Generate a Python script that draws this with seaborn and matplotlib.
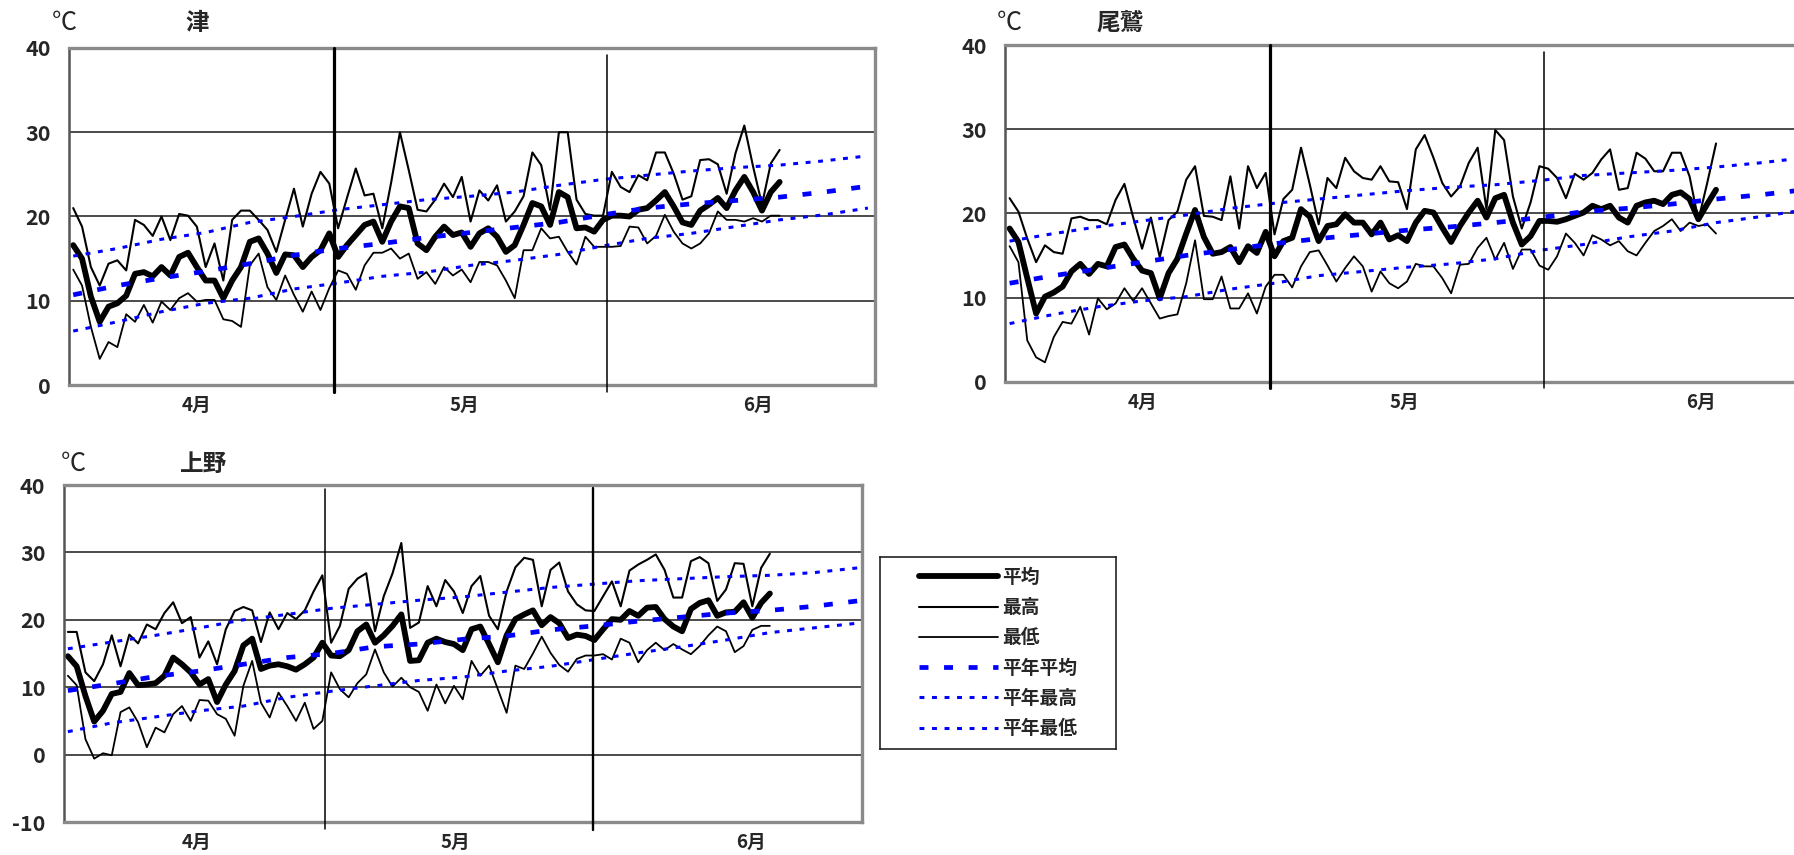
import numpy as np
import pandas as pd
import matplotlib
matplotlib.use("Agg")
import matplotlib.pyplot as plt
import seaborn as sns

sns.set_theme(style="white")
plt.rcParams['font.family'] = ['Noto Sans CJK JP', 'DejaVu Sans']

W, H = 1794, 855

# ---------------- data ----------------
days = list(range(81))            # 4/1 .. 6/20
norm_days = list(range(0, 91, 5))  # every 5 days, 4/1 .. 6/30
month_labels = ['4月', '5月', '6月']
legend_labels = ['平均', '最高', '最低', '平年平均', '平年最高', '平年最低']

tsu_max = [21.0, 18.8, 14.0, 11.8, 14.4, 14.8, 13.6, 19.6, 19.0, 17.7, 20.0, 17.2, 20.3, 20.1, 18.8,
           14.0, 16.8, 12.4, 19.6, 20.7, 20.7, 19.6, 18.4, 15.8, 19.6, 23.3, 18.8, 22.7, 25.3, 23.9,
           18.6, 22.2, 25.7, 22.5, 22.7, 18.6, 24.0, 30.0, 25.5, 20.8, 20.6, 22.0, 23.9, 22.3, 24.7,
           19.4, 23.1, 21.9, 23.7, 19.4, 20.6, 22.4, 27.6, 26.1, 20.8, 30.0, 30.0, 22.0, 20.3, 20.1, 20.1,
           25.3, 23.5, 22.9, 24.9, 24.3, 27.6, 27.6, 25.1, 22.0, 22.4, 26.7, 26.8, 26.2, 22.7, 27.5,
           30.8, 25.9, 21.4, 26.3, 27.9]
tsu_mean = [16.6, 15.0, 10.5, 7.5, 9.3, 9.7, 10.6, 13.2, 13.4, 12.9, 14.0, 13.0, 15.2, 15.7, 14.0,
            12.4, 12.4, 10.3, 12.4, 14.0, 17.0, 17.4, 15.6, 13.3, 15.5, 15.4, 14.0, 15.2, 16.0, 18.0,
            15.2, 16.6, 17.8, 19.0, 19.4, 17.0, 19.4, 21.2, 21.0, 16.8, 16.0, 17.6, 18.8, 17.8, 18.1,
            16.4, 18.0, 18.6, 17.6, 15.8, 16.6, 19.0, 21.6, 21.2, 19.0, 22.9, 22.3, 18.6, 18.7, 18.2, 19.6,
            20.1, 20.1, 20.0, 20.8, 21.0, 21.9, 22.9, 21.2, 19.3, 19.0, 20.7, 21.4, 22.2, 21.0, 23.1,
            24.7, 22.9, 20.7, 22.9, 24.1]
tsu_min = [13.7, 11.8, 6.9, 3.1, 5.1, 4.5, 8.4, 7.5, 9.5, 7.4, 9.9, 8.9, 10.3, 10.9, 9.9,
           10.1, 10.1, 7.8, 7.6, 6.9, 14.2, 15.6, 11.6, 10.1, 13.0, 10.7, 8.7, 11.1, 8.9, 11.5,
           13.6, 13.2, 11.3, 14.2, 15.7, 15.7, 16.2, 15.0, 15.6, 12.6, 13.4, 12.0, 14.0, 13.0, 13.7,
           12.2, 14.6, 14.6, 14.2, 12.4, 10.3, 16.0, 16.0, 18.6, 17.4, 17.6, 15.8, 14.3, 17.6, 16.4, 16.4,
           16.4, 16.5, 18.8, 18.7, 16.8, 17.7, 20.2, 18.2, 16.8, 16.2, 16.8, 18.0, 20.6, 19.6, 19.6,
           19.4, 19.8, 19.4, 20.1, 20.1]
tsu_nmax = [15.3, 16.2, 17.3, 18.1, 19.3, 20.0, 20.8, 21.4, 22.0, 22.4, 22.9, 23.7, 24.4, 24.9, 25.4,
            25.8, 26.1, 26.6, 27.2]
tsu_nmean = [10.7, 11.8, 12.7, 13.5, 14.4, 15.4, 16.2, 16.8, 17.5, 18.1, 18.7, 19.3, 20.2, 21.0, 21.5,
             21.9, 22.3, 22.9, 23.6]
tsu_nmin = [6.4, 7.5, 8.7, 9.7, 10.3, 11.4, 12.1, 12.9, 13.4, 14.2, 14.8, 15.5, 16.5, 17.4, 18.0,
            18.8, 19.6, 20.2, 21.0]

ow_max = [21.8, 20.2, 17.0, 14.2, 16.2, 15.4, 15.2, 19.4, 19.6, 19.2, 19.2, 18.7, 21.6, 23.5, 19.5,
          15.8, 19.5, 14.8, 19.2, 20.2, 24.0, 25.6, 19.7, 19.6, 19.2, 24.4, 18.2, 25.6, 23.0, 24.8,
          17.5, 21.7, 22.8, 27.8, 23.4, 18.7, 24.2, 23.0, 26.6, 25.0, 24.2, 24.0, 25.6, 23.8, 23.7,
          20.5, 27.6, 29.3, 26.6, 23.6, 22.0, 23.2, 26.0, 27.8, 20.5, 29.9, 28.7, 22.0, 18.2, 21.3, 25.6,
          25.3, 24.2, 21.8, 24.7, 24.0, 24.8, 26.4, 27.6, 22.8, 23.0, 27.2, 26.5, 25.0, 25.0, 27.2,
          27.2, 24.4, 19.2, 23.6, 28.3]
ow_mean = [18.2, 16.6, 12.3, 8.1, 10.1, 10.6, 11.3, 13.1, 14.0, 12.8, 14.0, 13.7, 16.0, 16.3, 14.6,
           13.2, 12.9, 9.9, 12.9, 14.6, 17.6, 20.4, 17.2, 15.2, 15.4, 16.0, 14.2, 16.1, 15.3, 17.8,
           14.9, 16.7, 17.1, 20.5, 19.6, 16.7, 18.5, 18.7, 19.9, 18.9, 18.9, 17.5, 18.9, 16.9, 17.4,
           16.7, 18.9, 20.3, 20.1, 18.3, 16.6, 18.5, 20.1, 21.5, 19.5, 21.8, 22.2, 18.9, 16.3, 17.3, 19.1,
           19.1, 19.0, 19.3, 19.7, 20.1, 20.9, 20.5, 20.9, 19.5, 18.9, 20.9, 21.3, 21.5, 21.1, 22.2,
           22.5, 21.7, 19.3, 21.1, 22.8]
ow_min = [16.1, 14.2, 4.9, 2.9, 2.3, 5.3, 7.1, 6.9, 8.9, 5.6, 9.9, 8.6, 9.3, 11.1, 9.6,
          11.1, 9.3, 7.5, 7.8, 8.0, 11.7, 16.8, 9.8, 9.8, 12.5, 8.7, 8.7, 10.5, 8.1, 11.3,
          12.7, 12.7, 11.2, 13.7, 15.4, 15.6, 13.8, 11.9, 13.5, 14.9, 13.7, 10.7, 13.1, 11.7, 11.1,
          11.9, 14.0, 13.7, 13.7, 12.3, 10.5, 13.9, 14.0, 15.9, 17.1, 14.5, 16.5, 13.4, 15.7, 15.7, 13.8,
          13.3, 14.9, 17.6, 16.5, 15.0, 17.4, 16.9, 16.2, 16.7, 15.5, 15.0, 16.5, 17.9, 18.5, 19.3,
          17.9, 18.9, 18.5, 18.7, 17.6]
ow_nmax = [16.7, 17.6, 18.4, 19.1, 19.8, 20.6, 21.2, 21.7, 22.2, 22.7, 23.1, 23.4, 23.9, 24.5, 24.8,
           25.1, 25.5, 26.0, 26.6]
ow_nmean = [11.7, 12.6, 13.4, 14.2, 15.0, 15.7, 16.4, 17.0, 17.5, 18.0, 18.4, 18.9, 19.5, 20.2, 20.6,
            21.1, 21.7, 22.2, 22.8]
ow_nmin = [6.9, 8.0, 8.9, 9.6, 10.1, 11.0, 11.7, 12.6, 13.1, 13.6, 14.0, 14.6, 15.6, 16.3, 17.2,
           17.9, 18.9, 19.6, 20.4]

ue_max = [18.2, 18.2, 12.2, 10.9, 13.4, 17.7, 13.1, 17.8, 16.5, 19.3, 18.6, 21.0, 22.6, 19.5, 20.4,
          14.4, 16.8, 13.4, 18.6, 21.3, 21.9, 21.4, 16.7, 21.1, 18.6, 21.0, 20.1, 21.4, 24.2, 26.6,
          16.6, 19.1, 24.6, 26.1, 26.9, 18.3, 23.5, 26.9, 31.4, 18.8, 19.6, 25.0, 22.0, 25.9, 24.2,
          21.0, 25.0, 26.5, 20.6, 18.6, 24.2, 27.8, 29.2, 28.9, 22.0, 27.4, 28.5, 24.2, 22.3, 21.4, 21.3,
          23.5, 25.7, 22.0, 27.3, 28.2, 28.9, 29.7, 27.4, 23.3, 23.3, 28.7, 29.3, 28.4, 22.8, 24.5,
          28.4, 28.3, 22.0, 27.7, 29.8]
ue_mean = [14.6, 13.1, 8.7, 4.9, 6.5, 9.0, 9.3, 12.1, 10.3, 10.4, 10.6, 11.7, 14.4, 13.4, 12.2,
           10.4, 11.2, 7.8, 10.4, 12.4, 16.2, 17.2, 12.7, 13.2, 13.4, 13.1, 12.6, 13.4, 14.4, 16.6,
           14.7, 14.6, 15.5, 18.3, 19.3, 16.6, 17.7, 19.1, 20.8, 13.9, 14.0, 16.6, 17.2, 16.7, 16.4,
           15.5, 18.6, 19.0, 16.4, 13.7, 17.7, 20.1, 20.8, 21.4, 19.2, 20.4, 19.5, 17.3, 17.8, 17.6, 17.0,
           18.6, 20.1, 20.0, 21.3, 20.6, 21.8, 21.9, 20.1, 19.0, 18.3, 21.6, 22.5, 22.9, 20.6, 21.1,
           21.2, 22.6, 20.3, 22.5, 23.9]
ue_min = [11.7, 10.3, 2.3, -0.6, 0.2, -0.1, 6.3, 7.0, 4.8, 1.1, 4.0, 3.3, 6.0, 7.2, 5.0,
          8.1, 8.0, 6.0, 5.3, 2.8, 10.2, 13.9, 7.7, 5.5, 9.2, 7.2, 5.0, 7.7, 3.8, 5.0,
          12.2, 9.7, 8.5, 10.6, 11.9, 15.6, 12.2, 10.1, 11.4, 10.0, 9.3, 6.5, 10.4, 7.6, 10.2,
          8.2, 13.9, 11.7, 13.2, 9.7, 6.2, 13.2, 12.7, 15.0, 17.5, 15.1, 13.3, 12.3, 14.2, 14.7, 14.7,
          14.9, 14.1, 17.2, 16.6, 13.7, 15.5, 16.6, 15.5, 16.4, 15.6, 14.9, 16.1, 17.7, 19.0, 18.3,
          15.2, 16.1, 18.5, 19.1, 19.1]
ue_nmax = [15.7, 16.7, 17.7, 18.8, 20.0, 20.8, 21.7, 22.3, 22.9, 23.4, 24.1, 24.8, 25.3, 25.8, 26.1,
           26.4, 26.6, 27.0, 27.7]
ue_nmean = [9.5, 10.5, 11.6, 12.4, 13.4, 14.4, 15.0, 16.0, 16.4, 17.1, 17.6, 18.5, 19.1, 19.8, 20.4,
            21.0, 21.4, 22.0, 22.8]
ue_nmin = [3.4, 4.7, 5.6, 6.5, 7.2, 8.5, 9.4, 10.2, 11.0, 11.5, 12.4, 13.1, 14.1, 15.1, 16.0,
           17.0, 18.1, 18.8, 19.5]

# ---------------- styles ----------------
BLUE = '#0000FF'
ST_MEAN = dict(color='black', linewidth=4.2, solid_joinstyle='round', solid_capstyle='round')
ST_MAX = dict(color='black', linewidth=1.5, solid_joinstyle='round')
ST_MIN = dict(color='black', linewidth=1.3, solid_joinstyle='round')
ST_NMEAN = dict(color=BLUE, linewidth=3.4, linestyle=(0, (1.9, 3.3)))
ST_NMAX = dict(color=BLUE, linewidth=2.2, linestyle=(0, (1.6, 2.5)))
ST_NMIN = dict(color=BLUE, linewidth=2.2, linestyle=(0, (1.6, 2.5)))

fig = plt.figure(figsize=(W / 100, H / 100), dpi=100)
fig.patch.set_facecolor('white')


def fr(x0, y0, x1, y1):
    return [x0 / W, 1 - y1 / H, (x1 - x0) / W, (y1 - y0) / H]


def draw_panel(box, xmax, ylim, series, vlines, label_pos):
    ax = fig.add_axes(box)
    mx, mean, mn, nmx, nmean, nmn = series
    sns.lineplot(x=days, y=mean, ax=ax, label=legend_labels[0], **ST_MEAN)
    sns.lineplot(x=days, y=mx, ax=ax, label=legend_labels[1], **ST_MAX)
    sns.lineplot(x=days, y=mn, ax=ax, label=legend_labels[2], **ST_MIN)
    sns.lineplot(x=norm_days, y=nmean, ax=ax, label=legend_labels[3], **ST_NMEAN)
    sns.lineplot(x=norm_days, y=nmx, ax=ax, label=legend_labels[4], **ST_NMAX)
    sns.lineplot(x=norm_days, y=nmn, ax=ax, label=legend_labels[5], **ST_NMIN)
    if ax.get_legend() is not None:
        ax.get_legend().remove()
    ax.set_xlim(-0.5, xmax)
    ax.set_ylim(*ylim)
    yt = list(range(ylim[0], ylim[1] + 1, 10))
    ax.set_yticks(yt)
    ax.set_yticklabels([str(v) for v in yt], fontsize=15.5, fontweight='bold')
    ax.set_xticks(label_pos)
    ax.set_xticklabels(month_labels, fontsize=13.5, fontweight='bold')
    ax.tick_params(axis='y', length=0, pad=13)
    ax.tick_params(axis='x', length=0, pad=8)
    ax.set_xlabel('')
    ax.set_ylabel('')
    for v in yt[1:-1]:
        ax.axhline(v, color='#1a1a1a', linewidth=1.1, zorder=1)
    for xpos, lw, y0, y1 in vlines:
        ax.axvline(xpos, ymin=y0, ymax=y1, color='black', linewidth=lw, clip_on=False, zorder=3)
    for s in ['top', 'right', 'bottom']:
        ax.spines[s].set_color('#8a8a8a')
        ax.spines[s].set_linewidth(2.4)
    ax.spines['left'].set_color('#555555')
    ax.spines['left'].set_linewidth(1.8)
    return ax


ax1 = draw_panel(fr(68.8, 48, 875, 385), 90.8, (0, 40),
                 (tsu_max, tsu_mean, tsu_min, tsu_nmax, tsu_nmean, tsu_nmin),
                 [(29.5, 2.3, -0.02, 1.0), (60.5, 1.1, -0.02, 0.98)],
                 [14.0, 44.3, 77.5])
ax2 = draw_panel(fr(1005.2, 45, 1811.4, 381.7), 90.8, (0, 40),
                 (ow_max, ow_mean, ow_min, ow_nmax, ow_nmean, ow_nmin),
                 [(29.5, 2.3, -0.02, 1.0), (60.5, 1.1, -0.02, 0.98)],
                 [15.0, 44.7, 78.3])
ax3 = draw_panel(fr(63.5, 485, 862, 822), 90.5, (-10, 40),
                 (ue_max, ue_mean, ue_min, ue_nmax, ue_nmean, ue_nmin),
                 [(29.25, 1.1, -0.02, 0.987), (59.85, 1.7, -0.025, 0.99)],
                 [14.7, 44.2, 77.8])

# titles and units
for (ux, tx, ty, name) in [(64, 197, 23, '津'), (1009, 1120, 23, '尾鷲'), (73, 204, 464, '上野')]:
    fig.text(ux / W, 1 - ty / H, '℃', ha='center', va='center', fontsize=18)
    fig.text(tx / W, 1 - ty / H, name, ha='center', va='center', fontsize=17, fontweight='bold')

# legend in its own framed box
axl = fig.add_axes(fr(880, 557, 1116, 749))
axl.set_xticks([])
axl.set_yticks([])
axl.set_facecolor('white')
for s in axl.spines.values():
    s.set_color('#222222')
    s.set_linewidth(1.2)
handles = ax1.get_lines()[:6]
leg = axl.legend(handles, legend_labels, loc='center', frameon=False,
                 handlelength=4.2, handletextpad=0.25, labelspacing=0.6,
                 prop={'size': 13.5, 'weight': 'bold'})

fig.savefig('out.png', dpi=100, facecolor='white')
